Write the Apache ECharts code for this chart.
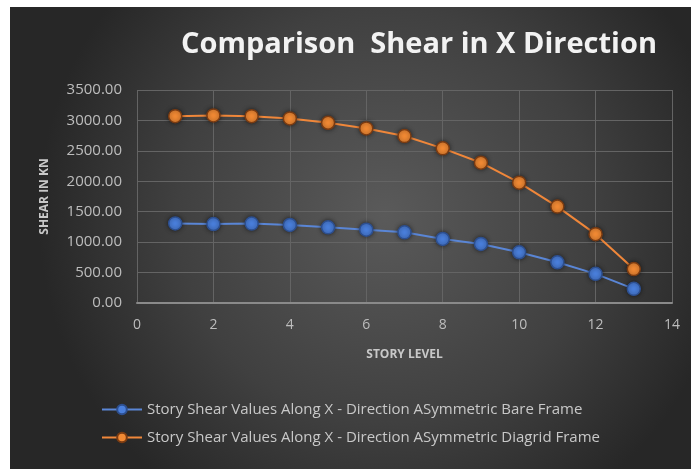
<!DOCTYPE html>
<html>
<head>
<meta charset="utf-8">
<script src="https://cdn.jsdelivr.net/npm/echarts@6/dist/echarts.min.js"></script>
<style>
html,body{margin:0;padding:0;background:#ffffff;width:691px;height:469px;overflow:hidden;}
#chart{position:absolute;left:10px;top:7px;width:681px;height:462px;}
</style>
</head>
<body>
<div id="chart"></div>
<script>
var storyLevels = [1, 2, 3, 4, 5, 6, 7, 8, 9, 10, 11, 12, 13];
var bareFrame = [1308, 1298, 1305, 1282, 1243, 1205, 1161, 1052, 970, 833, 669, 479, 233];
var diagridFrame = [3070, 3082, 3070, 3033, 2961, 2869, 2743, 2541, 2305, 1977, 1584, 1131, 557];
var seriesNames = [
  'Story Shear Values Along X - Direction ASymmetric Bare Frame',
  'Story Shear Values Along X - Direction ASymmetric Diagrid Frame'
];
var titleText = 'Comparison  Shear in X Direction';

function pairs(xs, ys) { return xs.map(function (x, i) { return [x, ys[i]]; }); }

var chart = echarts.init(document.getElementById('chart'), null, {renderer: 'canvas'});
var font = '"Open Sans", Lato, sans-serif';
chart.setOption({
  animation: false,
  backgroundColor: {
    type: 'radial', x: 0.55, y: 0.45, r: 0.75,
    colorStops: [
      {offset: 0, color: '#5a5a5a'},
      {offset: 0.6, color: '#404040'},
      {offset: 1, color: '#272727'}
    ]
  },
  title: {
    text: titleText,
    left: 166, top: 18,
    textStyle: {color: '#f2f2f2', fontFamily: font, fontWeight: 'bold', fontSize: 29}
  },
  legend: {
    orient: 'vertical',
    left: 86, top: 390,
    itemWidth: 40, itemHeight: 12, itemGap: 13,
    textStyle: {color: '#c8c8c8', fontFamily: font, fontSize: 15},
    data: seriesNames
  },
  grid: {left: 127, right: 19, top: 83, bottom: 166, containLabel: false},
  xAxis: {
    type: 'value', min: 0, max: 14, interval: 2,
    name: 'STORY LEVEL', nameLocation: 'middle', nameGap: 46,
    nameTextStyle: {color: '#c8c8c8', fontFamily: font, fontWeight: 'bold', fontSize: 12},
    axisLine: {show: true, lineStyle: {color: '#8a8a8a', width: 2}},
    axisTick: {show: false},
    axisLabel: {color: '#bdbdbd', fontFamily: font, fontSize: 14, margin: 15},
    splitLine: {show: true, lineStyle: {color: '#646464', width: 1}}
  },
  yAxis: {
    type: 'value', min: 0, max: 3500, interval: 500,
    name: 'SHEAR IN KN', nameLocation: 'middle', nameGap: 86, nameRotate: 90,
    nameTextStyle: {color: '#c8c8c8', fontFamily: font, fontWeight: 'bold', fontSize: 12},
    axisLine: {show: false},
    axisTick: {show: false},
    axisLabel: {color: '#bdbdbd', fontFamily: font, fontSize: 15, margin: 15,
      formatter: function (v) { return v.toFixed(2); }},
    splitLine: {show: true, lineStyle: {color: '#646464', width: 1}}
  },
  series: [
    {
      name: seriesNames[0], type: 'line',
      data: pairs(storyLevels, bareFrame),
      symbol: 'circle', symbolSize: 13,
      lineStyle: {color: '#5a86d6', width: 2},
      itemStyle: {color: '#4a7fdc', borderColor: '#2d4f8f', borderWidth: 1.5,
        shadowColor: 'rgba(0,0,0,0.5)', shadowBlur: 4}
    },
    {
      name: seriesNames[1], type: 'line',
      data: pairs(storyLevels, diagridFrame),
      symbol: 'circle', symbolSize: 13,
      lineStyle: {color: '#f0873a', width: 2},
      itemStyle: {color: '#f28a34', borderColor: '#7a3b12', borderWidth: 1.5,
        shadowColor: 'rgba(0,0,0,0.5)', shadowBlur: 4}
    }
  ]
});
</script>
</body>
</html>
